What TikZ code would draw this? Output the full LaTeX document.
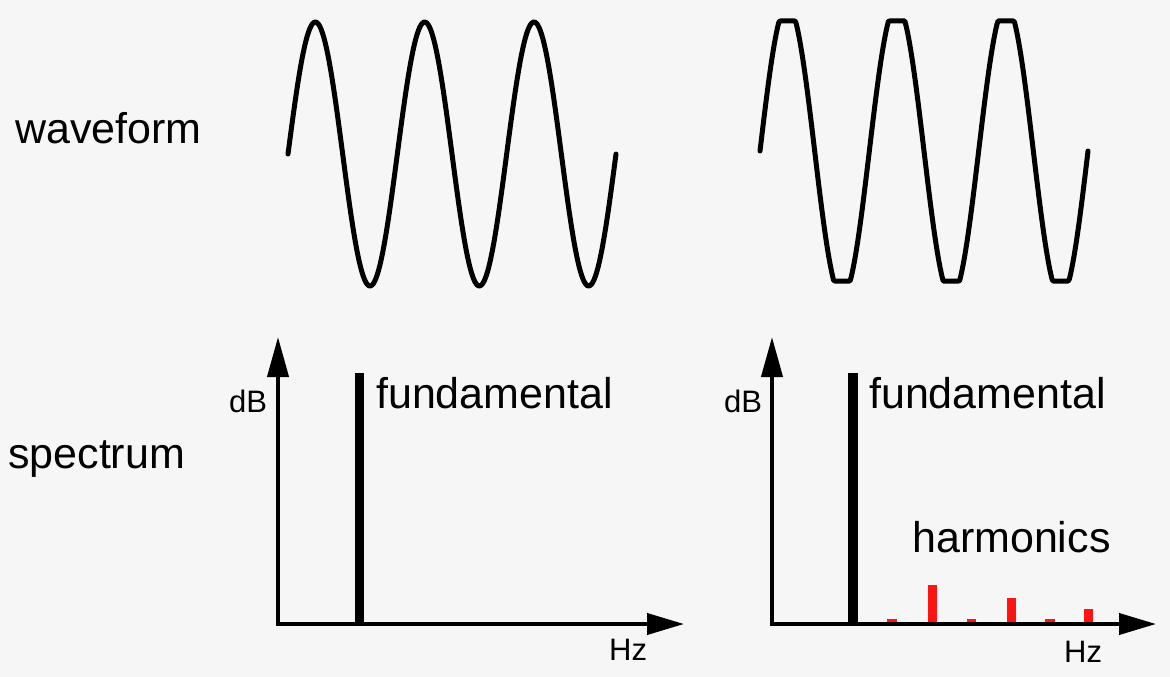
\documentclass[tikz,border=0pt]{standalone}
\usepackage{fontspec}
\setmainfont{Liberation Sans}
\usetikzlibrary{arrows.meta}
\definecolor{bg}{RGB}{246,246,246}
\definecolor{harm}{RGB}{255,20,20}
\tikzset{
  wave/.style={line width=5pt, line join=round, line cap=round},
  axis/.style={line width=4pt},
  yarrow/.style={-{Triangle[length=40pt,width=21pt]}},
  xarrow/.style={-{Triangle[length=37pt,width=21pt]}},
  bigtext/.style={inner sep=0pt, anchor=base west, font=\fontsize{43}{48}\selectfont},
  smalltext/.style={inner sep=0pt, anchor=base west, font=\fontsize{31}{34}\selectfont},
  fundbar/.style={fill=black, draw=none},
  harmbar/.style={fill=harm, draw=none}
}
\begin{document}
\begin{tikzpicture}[x=1pt, y=-1pt]
\fill[bg] (0,0) rectangle (1170,677);
\useasboundingbox (0,0) rectangle (1170,677);
% labels
\node[bigtext] (wf) at (15,143) {waveform};
\node[bigtext] (sp) at (8,468) {spectrum};
% left waveform
\draw[wave] plot[domain=288:616, samples=240] (\x, {154 - 132*sin(3.2927*(\x-288))});
% right waveform (clipped)
\draw[wave] plot[domain=760:1088, samples=300] (\x, {151 - max(-130, min(130, 146*sin(3.2927*(\x-760))))});
% left spectrum
\coordinate (o1) at (278,624);
\coordinate (y1) at (278,337);
\coordinate (x1) at (684,624);
\draw[axis, yarrow] ([yshift=2pt]o1) -- (y1);
\draw[axis, xarrow] ([xshift=-2pt]o1) -- (x1);
\fill[fundbar] (355,373) rectangle (364,626);
\node[smalltext] (db1) at (229,412) {dB};
\node[smalltext] (hz1) at (609,660) {Hz};
\node[bigtext] (f1) at (376,408) {fundamental};
% right spectrum
\coordinate (o2) at (772,624);
\coordinate (y2) at (772,337);
\coordinate (x2) at (1156,624);
\draw[axis, yarrow] ([yshift=2pt]o2) -- (y2);
\draw[axis, xarrow] ([xshift=-2pt]o2) -- (x2);
\fill[fundbar] (848,373) rectangle (858,626);
\node[smalltext] (db2) at (724,412) {dB};
\node[smalltext] (hz2) at (1064,662) {Hz};
\node[bigtext] (f2) at (869,408) {fundamental};
\node[bigtext] (hm) at (912,552) {harmonics};
% harmonics
\fill[harmbar] (887,619) rectangle (897,622);
\fill[harmbar] (928,585) rectangle (937,622);
\fill[harmbar] (967,619) rectangle (976,622);
\fill[harmbar] (1007,598) rectangle (1016,622);
\fill[harmbar] (1045,619) rectangle (1055,622);
\fill[harmbar] (1084,609) rectangle (1093,622);
\end{tikzpicture}
\end{document}
